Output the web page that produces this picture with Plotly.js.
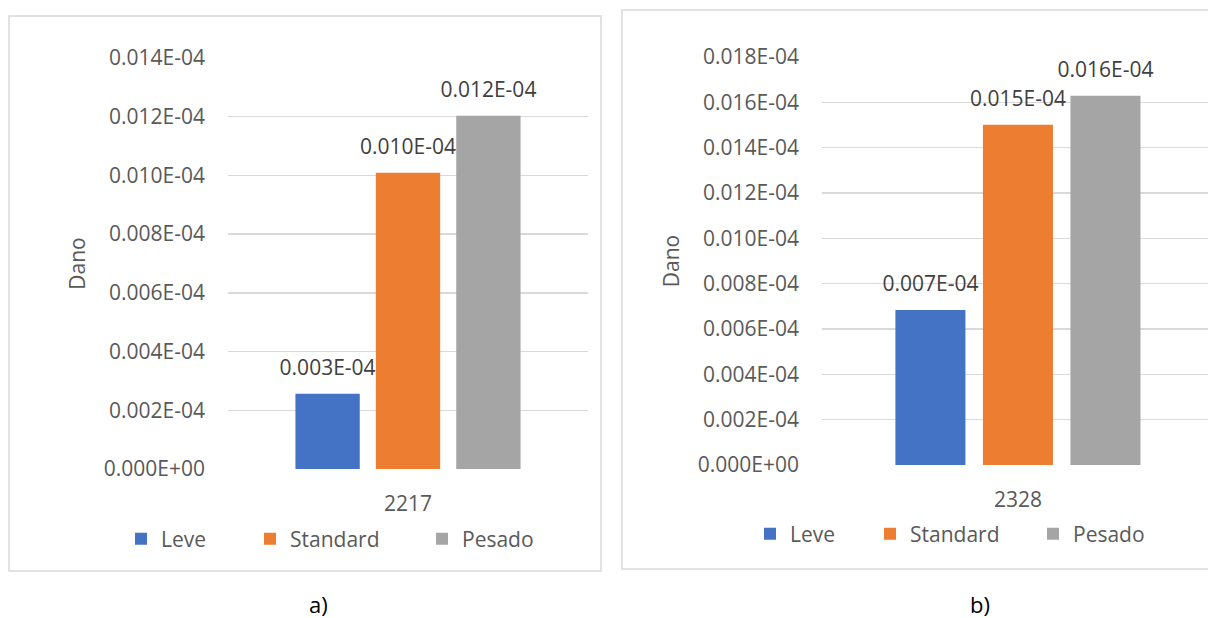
<!DOCTYPE html>
<html>
<head>
<meta charset="utf-8">
<script src="https://cdn.plot.ly/plotly-3.0.1.min.js"></script>
<style>
  html, body { margin: 0; padding: 0; background: #ffffff; }
  #chart { width: 1208px; height: 618px; }
</style>
</head>
<body>
<div id="chart"></div>
<script>
// Damage per axle-load class, two road sections
const seriesNames = ['Leve', 'Standard', 'Pesado'];
const seriesColors = ['#4472C4', '#ED7D31', '#A5A5A5'];

const categoriesA = ['2217'];
const damageA = [2.56e-7, 1.009e-6, 1.203e-6];

const categoriesB = ['2328'];
const damageB = [6.84e-7, 1.501e-6, 1.629e-6];

const tickValsA = [0, 2e-7, 4e-7, 6e-7, 8e-7, 1.0e-6, 1.2e-6, 1.4e-6];
const tickTextA = ['0.000E+00', '0.002E-04', '0.004E-04', '0.006E-04', '0.008E-04', '0.010E-04', '0.012E-04', '0.014E-04'];

const tickValsB = [0, 2e-7, 4e-7, 6e-7, 8e-7, 1.0e-6, 1.2e-6, 1.4e-6, 1.6e-6, 1.8e-6];
const tickTextB = ['0.000E+00', '0.002E-04', '0.004E-04', '0.006E-04', '0.008E-04', '0.010E-04', '0.012E-04', '0.014E-04', '0.016E-04', '0.018E-04'];

const W = 1208, H = 618;
const FONT = '"Open Sans", "Noto Sans", sans-serif';
const GREY_TEXT = '#595959';
const GRID = '#d9d9d9';

// value label in the same fixed-exponent style as the axis
function labelOf(v) {
  return (v * 1e4).toFixed(3) + 'E-04';
}

// pixel helpers for the page-sized paper
const px = x => x / W;
const py = y => 1 - y / H;

const traces = [];
const legendSpots = {
  a: [141, 270, 442],
  b: [770, 890, 1053]
};

seriesNames.forEach((name, i) => {
  traces.push({
    type: 'bar',
    name: name,
    x: categoriesA,
    y: [damageA[i]],
    text: [labelOf(damageA[i])],
    textposition: 'outside',
    constraintext: 'none',
    cliponaxis: false,
    textfont: { family: FONT, size: 21, color: '#404040' },
    marker: { color: seriesColors[i] },
    xaxis: 'x', yaxis: 'y',
    legend: 'legend' + (i === 0 ? '' : (i + 1)),
    hoverinfo: 'name+y'
  });
});
seriesNames.forEach((name, i) => {
  traces.push({
    type: 'bar',
    name: name,
    x: categoriesB,
    y: [damageB[i]],
    text: [labelOf(damageB[i])],
    textposition: 'outside',
    constraintext: 'none',
    cliponaxis: false,
    textfont: { family: FONT, size: 21, color: '#404040' },
    marker: { color: seriesColors[i] },
    xaxis: 'x2', yaxis: 'y2',
    legend: 'legend' + (i + 4),
    hoverinfo: 'name+y'
  });
});

function legendAt(cx, cy) {
  return {
    orientation: 'h',
    x: px(cx - 20), xanchor: 'left',
    y: py(cy), yanchor: 'middle',
    bgcolor: 'rgba(0,0,0,0)',
    borderwidth: 0,
    font: { family: FONT, size: 21, color: GREY_TEXT }
  };
}

const tickFont = { family: FONT, size: 21, color: GREY_TEXT };

const layout = {
  width: W, height: H,
  margin: { l: 0, r: 0, t: 0, b: 0 },
  paper_bgcolor: '#ffffff',
  plot_bgcolor: 'rgba(0,0,0,0)',
  barmode: 'group',
  bargap: 0.33,
  bargroupgap: 0.2,
  font: { family: FONT, color: GREY_TEXT },
  showlegend: true,

  xaxis: {
    domain: [px(228), px(588)], anchor: 'y',
    type: 'category', range: [-0.5, 0.5],
    showgrid: false, showline: false, zeroline: false, ticks: '',
    tickfont: tickFont, ticklabelstandoff: 20, fixedrange: true
  },
  yaxis: {
    domain: [py(469), py(58)], anchor: 'x',
    range: [0, 1.4e-6],
    tickmode: 'array', tickvals: tickValsA, ticktext: tickTextA,
    showgrid: true, gridcolor: GRID, gridwidth: 1.5,
    zeroline: false, showline: false, ticks: '',
    tickfont: tickFont, ticklabelstandoff: 22,
    title: { text: 'Dano', font: { family: FONT, size: 21, color: GREY_TEXT }, standoff: 12 },
    fixedrange: true
  },
  xaxis2: {
    domain: [px(822), 1], anchor: 'y2',
    type: 'category', range: [-0.5, 0.485],
    showgrid: false, showline: false, zeroline: false, ticks: '',
    tickfont: tickFont, ticklabelstandoff: 20, fixedrange: true
  },
  yaxis2: {
    domain: [py(465), py(57)], anchor: 'x2',
    range: [0, 1.8e-6],
    tickmode: 'array', tickvals: tickValsB, ticktext: tickTextB,
    showgrid: true, gridcolor: GRID, gridwidth: 1.5,
    zeroline: false, showline: false, ticks: '',
    tickfont: tickFont, ticklabelstandoff: 22,
    title: { text: 'Dano', font: { family: FONT, size: 21, color: GREY_TEXT }, standoff: 12 },
    fixedrange: true
  },

  legend: legendAt(legendSpots.a[0], 539),
  legend2: legendAt(legendSpots.a[1], 539),
  legend3: legendAt(legendSpots.a[2], 539),
  legend4: legendAt(legendSpots.b[0], 534),
  legend5: legendAt(legendSpots.b[1], 534),
  legend6: legendAt(legendSpots.b[2], 534),

  shapes: [
    { type: 'rect', xref: 'paper', yref: 'paper', x0: px(9), x1: px(601), y0: py(571), y1: py(16),
      line: { color: GRID, width: 1.5 }, fillcolor: 'rgba(0,0,0,0)', layer: 'below' },
    { type: 'rect', xref: 'paper', yref: 'paper', x0: px(622), x1: px(1216), y0: py(569), y1: py(10),
      line: { color: GRID, width: 1.5 }, fillcolor: 'rgba(0,0,0,0)', layer: 'below' }
  ],

  annotations: [
    { text: 'a)', xref: 'paper', yref: 'paper', x: px(318), y: py(604),
      xanchor: 'center', yanchor: 'middle', showarrow: false,
      font: { family: FONT, size: 22, color: '#000000' } },
    { text: 'b)', xref: 'paper', yref: 'paper', x: px(980), y: py(604),
      xanchor: 'center', yanchor: 'middle', showarrow: false,
      font: { family: FONT, size: 22, color: '#000000' } }
  ]
};

Plotly.newPlot('chart', traces, layout, { displayModeBar: false, staticPlot: true }).then(gd => {
  // lift the value labels a little further above the bar tops
  gd.querySelectorAll('.bartext').forEach(el => {
    const t = el.getAttribute('transform') || '';
    el.setAttribute('transform', 'translate(0,-10) ' + t);
  });
});
</script>
</body>
</html>
